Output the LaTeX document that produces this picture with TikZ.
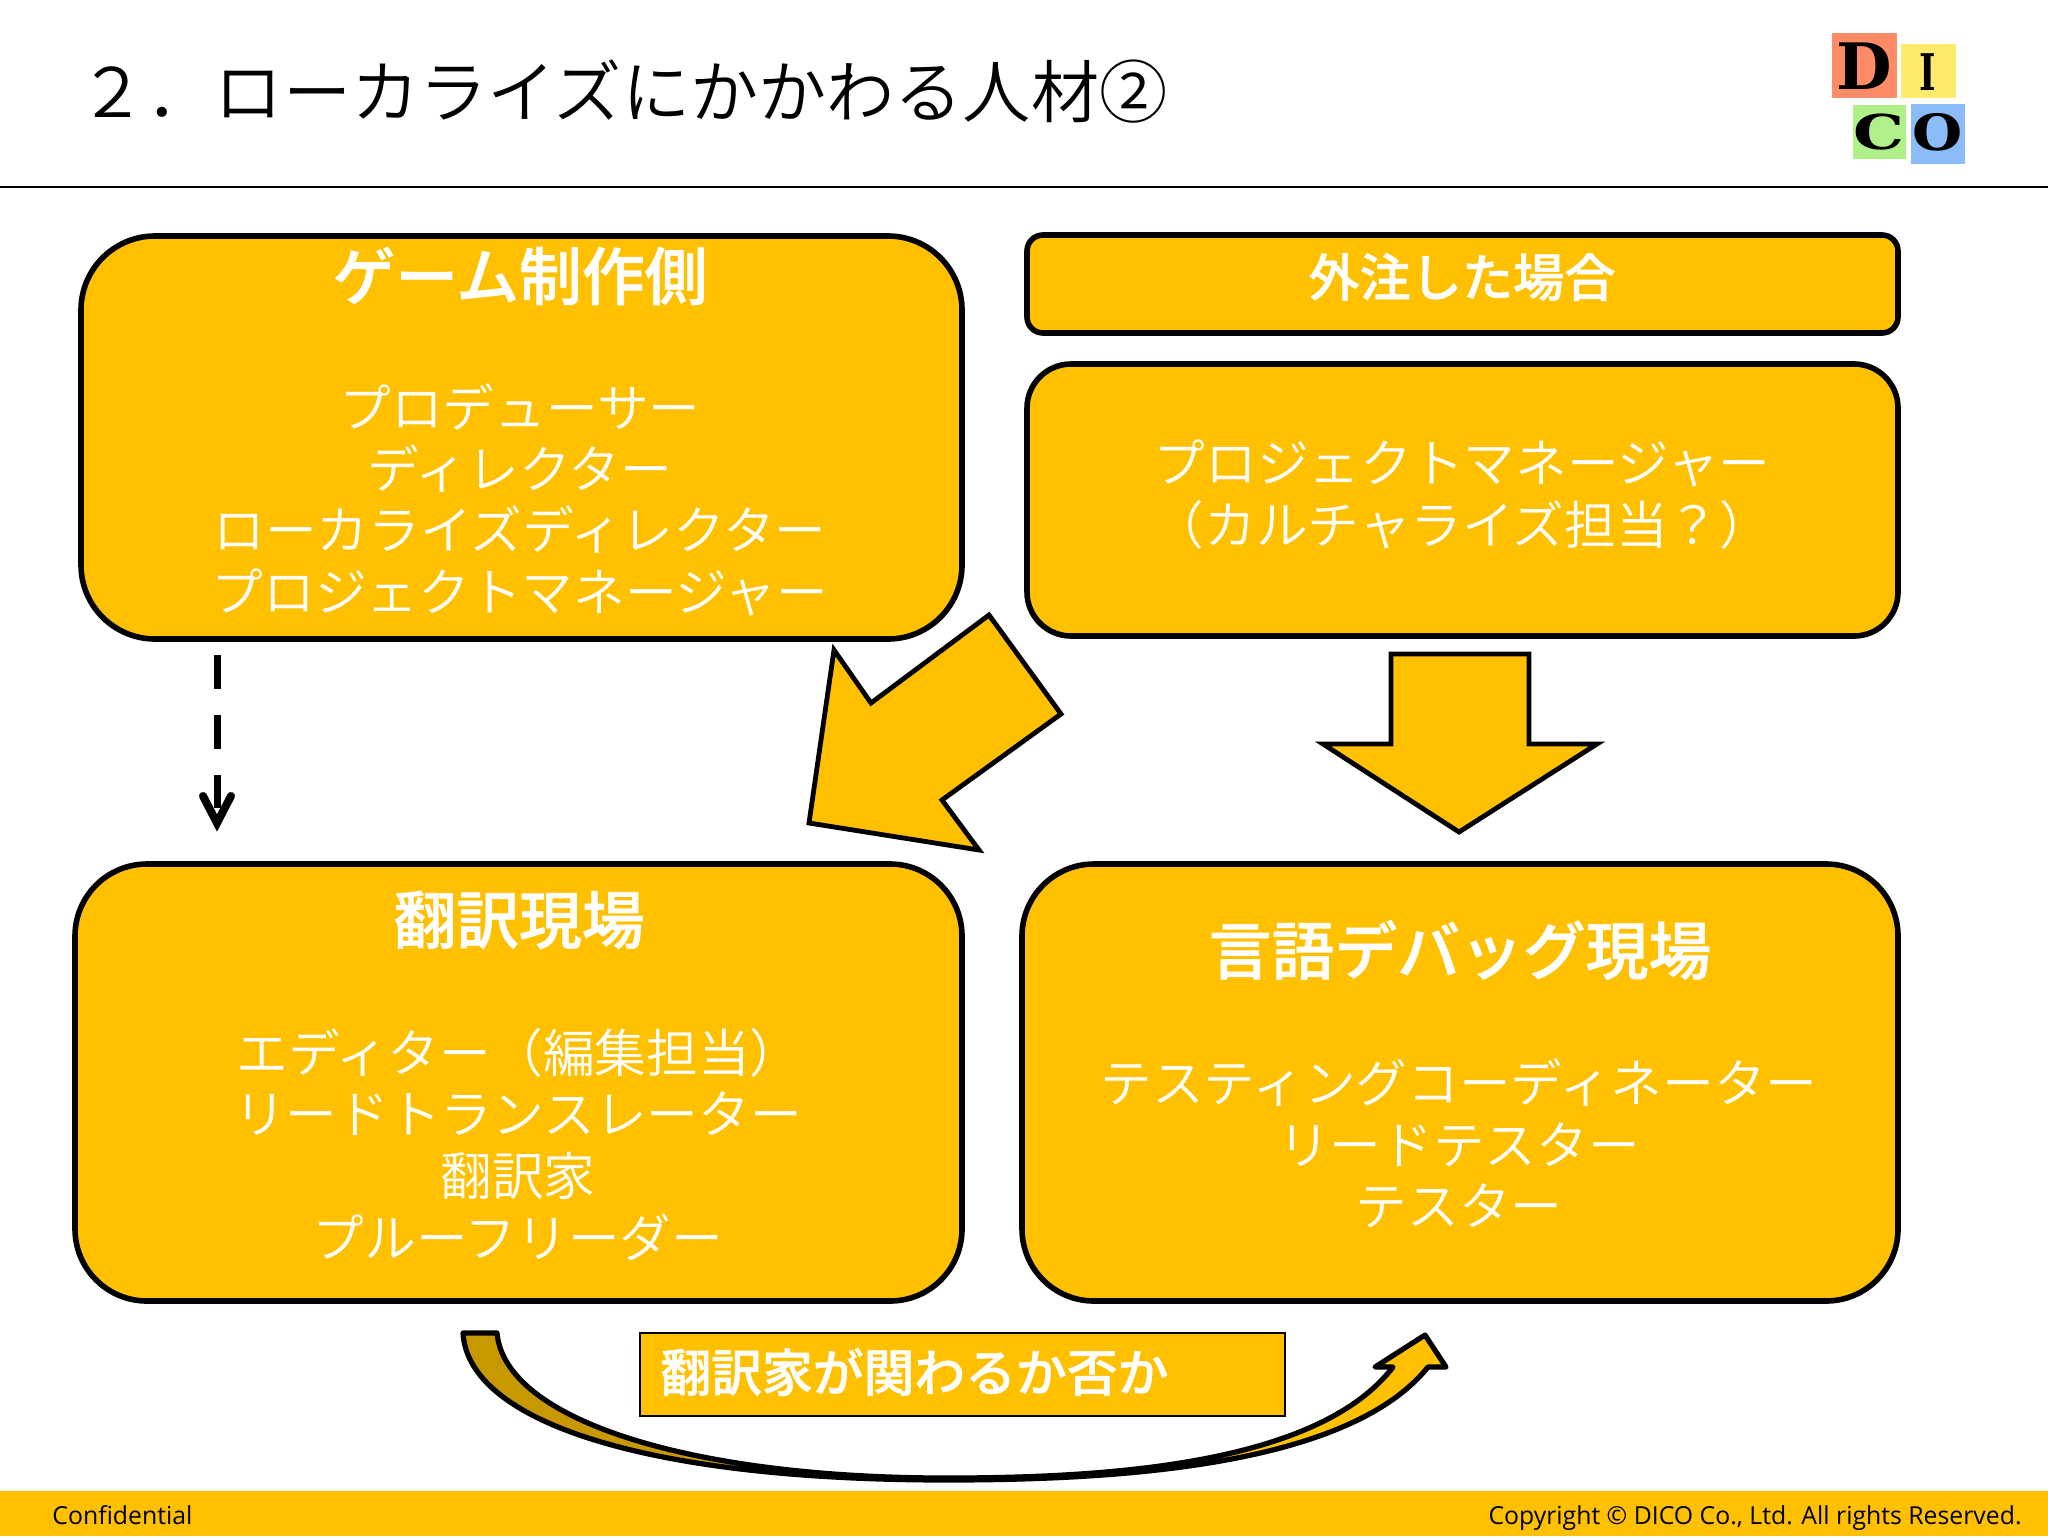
\documentclass[tikz,border=0pt]{standalone}
\usepackage{fontspec}
\setmainfont{Open Sans}
\newfontfamily\jpf{Noto Sans CJK JP DemiLight}
\newfontfamily\jpb[FakeBold=1]{Noto Sans CJK JP Medium}
\newfontfamily\logof{DejaVu Serif}
\definecolor{gold}{HTML}{FFC000}
\definecolor{darkgold}{HTML}{C89800}
\tikzset{
  x=0.5pt,y=-0.5pt,
  panel/.style={draw=black,line width=2.8pt,fill=gold},
  blockarrow/.style={draw=black,line width=2.4pt,fill=gold,miter limit=10},
  headtxt/.style={font=\jpb\fontsize{31.4}{37}\selectfont,text=white,anchor=center,inner sep=0},
  bodytxt/.style={font=\jpf\fontsize{25.85}{31}\selectfont,text=white,anchor=center,inner sep=0,align=center},
  letter/.style={font=\logof\bfseries\fontsize{32}{32}\selectfont,text=black,inner sep=0,anchor=center},
  foot/.style={font=\fontsize{12.4}{15}\selectfont,text=black,inner sep=0}
}
\begin{document}
\begin{tikzpicture}
\useasboundingbox (0,0) rectangle (2048,1536);
\fill[white] (0,0) rectangle (2048,1536);
% title
\node[anchor=west,inner sep=0,font=\jpf\fontsize{34.1}{40}\selectfont,text=black] (title) at (78,92) {２．ローカライズにかかわる人材②};
\coordinate (ruleL) at (0,187); \coordinate (ruleR) at (2048,187);
\draw[line width=1pt] (ruleL) -- (ruleR);
% logo
\fill[fill={rgb,255:red,255;green,140;blue,102}] (1832,33) rectangle (1897,98);
\fill[fill={rgb,255:red,255;green,235;blue,107}] (1901,44) rectangle (1956,98);
\fill[fill={rgb,255:red,176;green,240;blue,136}] (1853,105) rectangle (1906,159);
\fill[fill={rgb,255:red,140;green,188;blue,248}] (1911,104) rectangle (1965,164);
\node[letter] (D) at (1864,66) {D};
\node[letter,xscale=.55,yscale=.79] (I) at (1928,72) {I};
\node[letter,xscale=1,yscale=.75] (C) at (1879,132) {C};
\node[letter,xscale=.9,yscale=.78] (O) at (1938,132) {O};
% panels
\draw[panel,rounded corners=37pt] (81,236) rectangle (962,639);
\draw[panel,rounded corners=8pt] (1027,235) rectangle (1898,333);
\draw[panel,rounded corners=22pt] (1027,364) rectangle (1898,636);
\draw[panel,rounded corners=36pt] (75,864) rectangle (962,1301);
\draw[panel,rounded corners=36pt] (1022,864) rectangle (1898,1301);
% panel text
\node[headtxt] (h1) at (520,276) {ゲーム制作側};
\node[bodytxt] (b1a) at (520,407) {プロデューサー};
\node[bodytxt] (b1b) at (520,469) {ディレクター};
\node[bodytxt] (b1c) at (520,530) {ローカライズディレクター};
\node[bodytxt] (b1d) at (520,592) {プロジェクトマネージャー};
\node[headtxt,font=\jpb\fontsize{25.6}{31}\selectfont] (h2) at (1462,277) {外注した場合};
\node[bodytxt] (b2a) at (1462,463) {プロジェクトマネージャー};
\node[bodytxt] (b2b) at (1462,525) {（カルチャライズ担当？）};
\node[headtxt] (h3) at (519,920) {翻訳現場};
\node[bodytxt] (b3a) at (519,1053) {エディター（編集担当）};
\node[bodytxt] (b3b) at (518,1114) {リードトランスレーター};
\node[bodytxt] (b3c) at (518,1176) {翻訳家};
\node[bodytxt] (b3d) at (518,1237) {プルーフリーダー};
\node[headtxt] (h4) at (1460,950) {言語デバッグ現場};
\node[bodytxt] (b4a) at (1459,1083) {テスティングコーディネーター};
\node[bodytxt] (b4b) at (1459,1145) {リードテスター};
\node[bodytxt] (b4c) at (1459,1206) {テスター};
% block arrows
\draw[blockarrow] (989,615) -- (1061,714) -- (942,800) -- (979,850) -- (809,823) -- (834,650) -- (871,703) -- cycle;
\draw[blockarrow] (1391,654) -- (1529,654) -- (1529,744) -- (1597,744) -- (1459,832) -- (1323,744) -- (1391,744) -- cycle;
% dashed arrow
\coordinate (dashA) at (217,655);
\coordinate (dashB) at (217,823);
\draw[line width=3.5pt,dash pattern=on 17pt off 13pt] (dashA) -- (217,808);
\draw[line width=4pt,line cap=round,miter limit=10] (203,796) -- (dashB) -- (231,796);
% curved arrow
\fill[darkgold] (463,1333) .. controls (468,1420) and (640,1480) .. (947,1480) -- (947,1478) .. controls (690,1478) and (505,1420) .. (497,1333) -- cycle;
\fill[gold] (947,1480) .. controls (1130,1480) and (1350,1464) .. (1428,1367) -- (1446,1367) -- (1425,1335) -- (1375,1367) -- (1393,1367) .. controls (1320,1462) and (1120,1478) .. (947,1478) -- cycle;
\draw[line width=2.6pt,line join=round] (463,1333) .. controls (468,1420) and (640,1480) .. (947,1480) .. controls (1130,1480) and (1350,1464) .. (1428,1367) -- (1446,1367) -- (1425,1335) -- (1375,1367) -- (1393,1367) .. controls (1320,1462) and (1120,1478) .. (947,1478) .. controls (690,1478) and (505,1420) .. (497,1333) -- cycle;
% label
\node[draw=black,line width=1pt,fill=gold,minimum width=322.5pt,minimum height=41.5pt,anchor=north west,inner sep=0] (lab) at (639,1332) {};
\node[headtxt,anchor=west,font=\jpb\fontsize{25.4}{31}\selectfont] (labt) at (660,1372) {翻訳家が関わるか否か};
% footer
\fill[gold] (0,1491) rectangle (2048,1536);
\node[foot,anchor=base west] (conf) at (52,1524) {Confidential};
\node[foot,anchor=base east] (copy) at (2022,1524) {Copyright © DICO Co., Ltd. All rights Reserved.};
\end{tikzpicture}
\end{document}
